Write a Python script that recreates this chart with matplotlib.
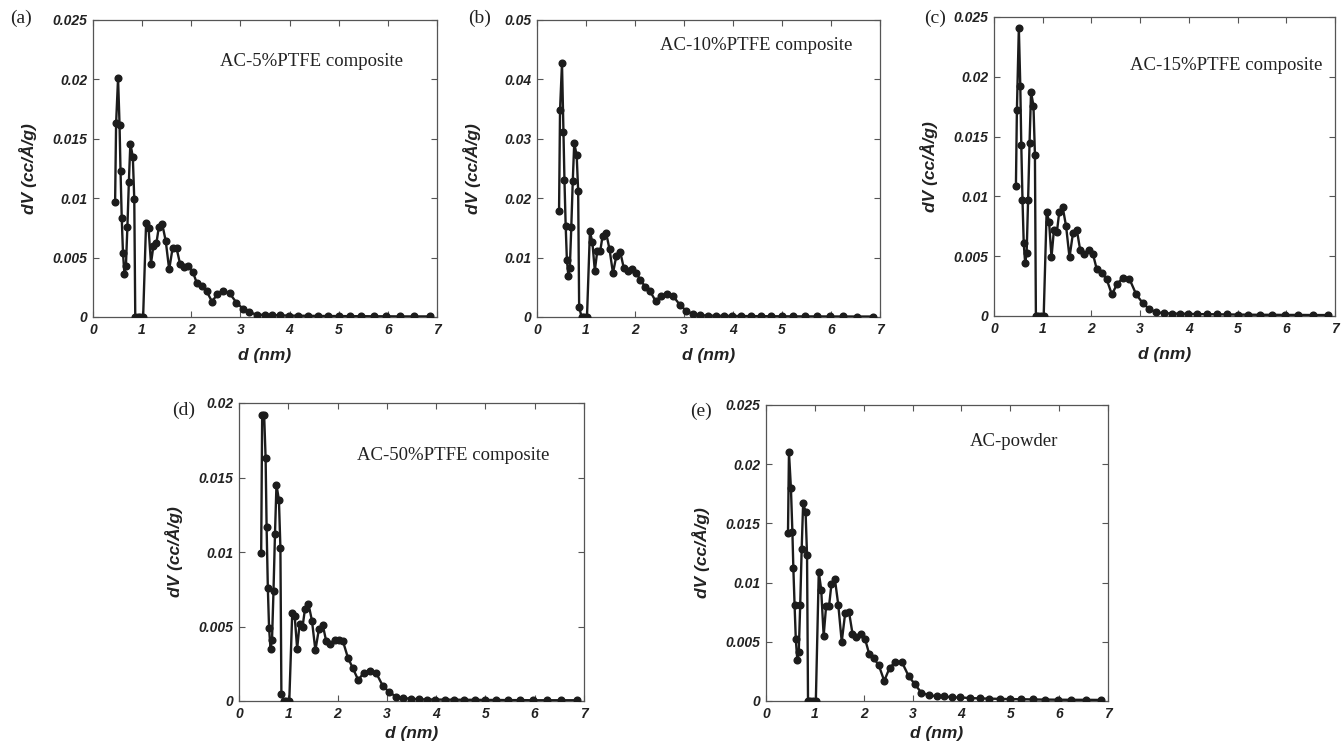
import matplotlib
matplotlib.use('Agg')
import matplotlib.pyplot as plt
from matplotlib.ticker import FuncFormatter

# pore width grid (nm)
d_nm = [0.45, 0.47, 0.51, 0.54, 0.56, 0.585, 0.61, 0.64, 0.67, 0.70, 0.73, 0.76, 0.81, 0.84,
        0.86, 0.91, 0.96, 1.02,
        1.08, 1.13, 1.18, 1.23, 1.29, 1.34, 1.41, 1.48, 1.55, 1.62, 1.70, 1.77, 1.85, 1.94,
        2.03, 2.11, 2.21, 2.31, 2.42, 2.53, 2.65, 2.78, 2.92, 3.05, 3.18,
        3.33, 3.49, 3.65, 3.81, 3.98, 4.17, 4.37, 4.57, 4.78, 5.00, 5.22, 5.46, 5.71, 5.97,
        6.24, 6.54, 6.85]

dv_5 = [0.0097, 0.0163, 0.0201, 0.0162, 0.0123, 0.0083, 0.0054, 0.0036, 0.0043, 0.0076, 0.0114,
        0.0146, 0.0135, 0.0099, 0, 0, 0, 0,
        0.0079, 0.0075, 0.0045, 0.0060, 0.0062, 0.0076, 0.0078, 0.0064, 0.0040, 0.0058, 0.0058,
        0.0045, 0.0042, 0.0043, 0.0038, 0.0029, 0.0026, 0.0022, 0.0013, 0.0019, 0.0022, 0.0020,
        0.0012, 0.0007, 0.0004,
        0.0002, 0.00018, 0.00016, 0.00014, 0.00012, 0.00011, 0.0001, 0.00009, 0.00008, 0.00008,
        0.00007, 0.00007, 0.00006, 0.00006, 0.00005, 0.00005, 0.00005]

dv_10 = [0.0178, 0.0348, 0.0427, 0.0311, 0.0231, 0.0154, 0.0096, 0.0069, 0.0083, 0.0152, 0.0229,
         0.0293, 0.0272, 0.0212, 0.0017, 0, 0, 0,
         0.0144, 0.0126, 0.0078, 0.0111, 0.0111, 0.0137, 0.0142, 0.0114, 0.0074, 0.0103, 0.0109,
         0.0083, 0.0078, 0.0081, 0.0074, 0.0062, 0.0051, 0.0043, 0.0027, 0.0035, 0.0039, 0.0035,
         0.0020, 0.0010, 0.0005,
         0.0003, 0.00025, 0.0002, 0.0002, 0.00018, 0.00016, 0.00015, 0.00014, 0.00013, 0.00012,
         0.00011, 0.0001, 0.0001, 0.00009, 0.00009, 0.00008, 0.00008]

dv_15 = [0.0109, 0.0172, 0.0241, 0.0192, 0.0143, 0.0097, 0.0061, 0.0044, 0.0053, 0.0097, 0.0145,
         0.0187, 0.0176, 0.0135, 0, 0, 0, 0,
         0.0087, 0.0079, 0.0049, 0.0072, 0.0070, 0.0087, 0.0091, 0.0075, 0.0049, 0.0069, 0.0072,
         0.0055, 0.0052, 0.0055, 0.0052, 0.0039, 0.0036, 0.0031, 0.0018, 0.0027, 0.0032, 0.0031,
         0.0018, 0.0011, 0.0006,
         0.0003, 0.00025, 0.0002, 0.0002, 0.00018, 0.00016, 0.00015, 0.00014, 0.00013, 0.00012,
         0.00011, 0.0001, 0.0001, 0.00009, 0.00009, 0.00008, 0.00008]

dv_50 = [0.0099, 0.0192, 0.0192, 0.0163, 0.0117, 0.0076, 0.0049, 0.0035, 0.0041, 0.0074, 0.0112,
         0.0145, 0.0135, 0.0103, 0.0005, 0, 0, 0,
         0.0059, 0.0057, 0.0035, 0.0052, 0.0050, 0.0062, 0.0065, 0.0054, 0.0034, 0.0048, 0.0051,
         0.0040, 0.0038, 0.0041, 0.0041, 0.0040, 0.0029, 0.0022, 0.0014, 0.0019, 0.0020, 0.0019,
         0.0010, 0.0006, 0.0003,
         0.0002, 0.00015, 0.00012, 0.0001, 0.0001, 0.00009, 0.00009, 0.00008, 0.00008, 0.00007,
         0.00007, 0.00006, 0.00006, 0.00005, 0.00005, 0.00005, 0.00005]

dv_powder = [0.0142, 0.0210, 0.0180, 0.0143, 0.0112, 0.0081, 0.0052, 0.0035, 0.0041, 0.0081, 0.0128,
             0.0167, 0.0160, 0.0123, 0, 0, 0, 0,
             0.0109, 0.0094, 0.0055, 0.0080, 0.0080, 0.0099, 0.0103, 0.0081, 0.0050, 0.0074, 0.0075,
             0.0057, 0.0054, 0.0057, 0.0052, 0.0040, 0.0036, 0.0030, 0.0017, 0.0028, 0.0033, 0.0033,
             0.0021, 0.0014, 0.0007,
             0.0005, 0.0004, 0.0004, 0.0003, 0.0003, 0.00025, 0.00022, 0.0002, 0.00018, 0.00016,
             0.00015, 0.00013, 0.00012, 0.00011, 0.0001, 0.0001, 0.00009]

labels = ['AC-5%PTFE composite', 'AC-10%PTFE composite', 'AC-15%PTFE composite',
          'AC-50%PTFE composite', 'AC-powder']
letters = ['(a)', '(b)', '(c)', '(d)', '(e)']
series = [dv_5, dv_10, dv_15, dv_50, dv_powder]
y_max = [0.025, 0.05, 0.025, 0.02, 0.025]
y_step = [0.005, 0.01, 0.005, 0.005, 0.005]

W, H = 1344, 747
# axes boxes in pixels: left, top, right, bottom
boxes = [(93, 20, 437, 317), (537, 20, 880, 317), (994, 17, 1335, 316),
         (239, 403, 584, 701), (766, 405, 1108, 701)]
letter_pos = [(10, 18), (468, 18), (924, 18), (172, 410), (690, 411)]
text_pos = [(220, 62), (660, 46), (1130, 65), (357, 455), (970, 442)]
xlab_top = [31, 31, 31, 25, 25]

fig = plt.figure(figsize=(W / 100, H / 100), dpi=100)
fig.patch.set_facecolor('white')

labfont = dict(family='Liberation Sans', weight='bold', style='italic', size=12.5)

for i in range(5):
    l, t, r, b = boxes[i]
    ax = fig.add_axes([l / W, 1 - b / H, (r - l) / W, (b - t) / H])
    ax.plot(d_nm, series[i], '-o', color='#1c1c1c', lw=1.7, ms=4.8, zorder=3)
    ax.set_xlim(0, 7)
    ax.set_ylim(0, y_max[i])
    ax.set_xticks(range(8))
    n = int(round(y_max[i] / y_step[i]))
    ax.set_yticks([k * y_step[i] for k in range(n + 1)])
    ax.yaxis.set_major_formatter(FuncFormatter(lambda v, p: '%g' % round(v, 4)))
    ax.tick_params(direction='in', top=True, right=True, length=4, width=0.8,
                   color='#555555', pad=4)
    for lab in ax.get_xticklabels() + ax.get_yticklabels():
        lab.set_family('Liberation Sans')
        lab.set_weight('bold')
        lab.set_style('italic')
        lab.set_size(10)
        lab.set_color('#222222')
    for s in ax.spines.values():
        s.set_color('#555555')
        s.set_linewidth(0.9)
    ax.set_xlabel('d (nm)', **labfont, color='#222222')
    ax.set_ylabel('dV (cc/Å/g)', **labfont, color='#222222')
    ax.xaxis.set_label_coords(0.5, -xlab_top[i] / (b - t))
    ax.yaxis.set_label_coords(-56 / (r - l), 0.5)

    lx, ly = letter_pos[i]
    fig.text(lx / W, 1 - ly / H, letters[i], family='Liberation Serif', size=14,
             ha='left', va='center', color='#222222')
    tx, ty = text_pos[i]
    fig.text(tx / W, 1 - ty / H, labels[i], family='Liberation Serif', size=13.5,
             ha='left', va='center', color='#222222')

fig.savefig('out.png', dpi=100)
